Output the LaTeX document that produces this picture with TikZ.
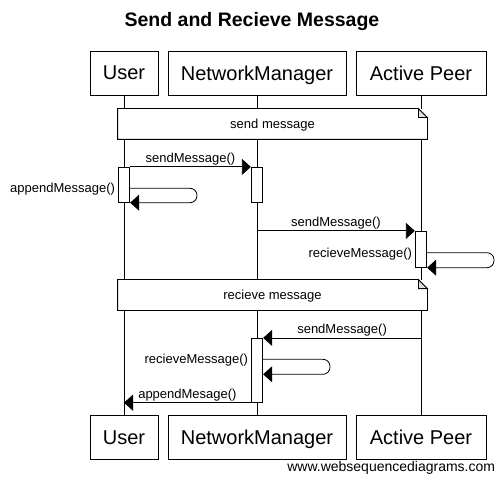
\documentclass[tikz,border=0pt]{standalone}
\usepackage{fontspec}
\setmainfont{Liberation Sans}
\usetikzlibrary{arrows.meta,calc}

\begin{document}
\begin{tikzpicture}[x=1pt, y=-1pt, line width=0.8pt,
  party/.style={draw,fill=white,minimum height=44pt,inner sep=0pt,text depth=0pt,font=\fontsize{20}{24}\selectfont},
  act/.style={draw,fill=white,minimum width=11.5pt,inner sep=0pt},
  notebox/.style={fill=white,minimum width=309pt,minimum height=30pt,inner sep=0pt,text depth=0pt,font=\fontsize{13}{15}\selectfont},
  msg/.style={-{Triangle[length=9pt,width=16pt]}},
  lbl/.style={font=\fontsize{13}{15}\selectfont,inner sep=1pt}]
  \useasboundingbox (0,0) rectangle (504,484);
  % Title
  \node[font=\bfseries\fontsize{19.5}{23}\selectfont] (title) at (252,22) {Send and Recieve Message};
  % Participants, top and bottom
  \node[party,minimum width=68pt]  (userT) at (124,73) {User};
  \node[party,minimum width=178pt] (nmT)   at (257,73) {NetworkManager};
  \node[party,minimum width=130pt] (apT)   at (421,73) {Active Peer};
  \node[party,minimum width=68pt]  (userB) at (124,437.7) {User};
  \node[party,minimum width=178pt] (nmB)   at (257,437.7) {NetworkManager};
  \node[party,minimum width=130pt] (apB)   at (421,437.7) {Active Peer};
  % Lifelines
  \draw (userT.south) -- (userB.north);
  \draw (nmT.south) -- (nmB.north);
  \draw (apT.south) -- (apB.north);
  % Notes
  \node[notebox] (sendNote) at (272.5,124) {send message};
  \draw (sendNote.north west) -- ($(sendNote.north east)+(-9,0)$) -- ($(sendNote.north east)+(0,9)$)
        -- (sendNote.south east) -- (sendNote.south west) -- cycle;
  \filldraw[fill=black!12] ($(sendNote.north east)+(-9,0)$) -- ($(sendNote.north east)+(-9,9)$) -- ($(sendNote.north east)+(0,9)$) -- cycle;
  \node[notebox] (recvNote) at (272.5,295) {recieve message};
  \draw (recvNote.north west) -- ($(recvNote.north east)+(-9,0)$) -- ($(recvNote.north east)+(0,9)$)
        -- (recvNote.south east) -- (recvNote.south west) -- cycle;
  \filldraw[fill=black!12] ($(recvNote.north east)+(-9,0)$) -- ($(recvNote.north east)+(-9,9)$) -- ($(recvNote.north east)+(0,9)$) -- cycle;
  % Activations
  \node[act,minimum height=35pt] (actU)  at (124,184.8) {};
  \node[act,minimum height=35pt] (actN1) at (257,184.8) {};
  \node[act,minimum height=36pt] (actA)  at (421,249.3) {};
  \node[act,minimum height=64pt] (actN2) at (257,370.3) {};
  % Loop turning points
  \coordinate (loopU) at (197,188.3);
  \coordinate (loopA) at (494,252.7);
  \coordinate (loopN) at (330,359.3);
  \coordinate (loopNend) at (330,374.3);
  % Messages
  \draw[msg] (actU.north east) -- (actN1.north west) node[midway,above,lbl] {sendMessage()};
  \draw[msg,rounded corners=7pt] (actU.east |- loopU) -- (loopU) -- (loopU |- actU.south) -- (actU.south east);
  \node[lbl,anchor=east] (appendLbl) at ($(actU.west |- loopU)+(-1.5,1)$) {appendMessage()};
  \draw[msg] (nmT.south |- actA.north) -- (actA.north west) node[midway,above,lbl] {sendMessage()};
  \draw[msg,rounded corners=7pt] (actA.east |- loopA) -- (loopA) -- (loopA |- actA.south) -- (actA.south east);
  \node[lbl,anchor=east] (recvLblA) at ($(actA.west |- loopA)+(-1.5,1)$) {recieveMessage()};
  \draw[msg] (apT.south |- actN2.north) -- (actN2.north east) node[midway,above,lbl] {sendMessage()};
  \draw[msg,rounded corners=7pt] (actN2.east |- loopN) -- (loopN) -- (loopNend) -- (actN2.east |- loopNend);
  \node[lbl,anchor=east] (recvLblN) at ($(actN2.west |- loopN)+(-1.5,1)$) {recieveMessage()};
  \draw[msg] (actN2.south west) -- (userT.south |- actN2.south) node[midway,above,lbl] {appendMesage()};
  % Credit
  \node[font=\fontsize{14}{16}\selectfont,anchor=east,inner sep=0pt] (credit) at (495.5,468) {www.websequencediagrams.com};
\end{tikzpicture}
\end{document}
